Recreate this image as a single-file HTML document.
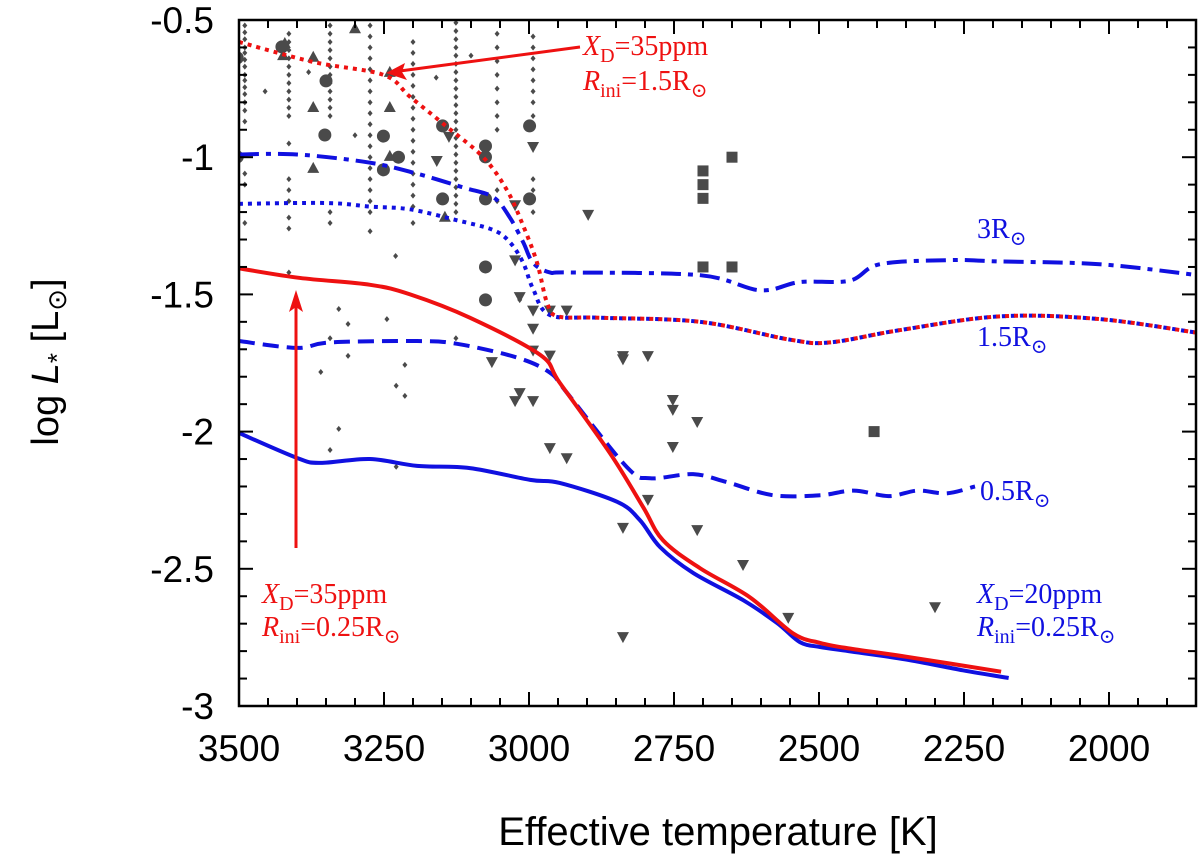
<!DOCTYPE html>
<html><head><meta charset="utf-8"><style>
html,body{margin:0;padding:0;background:#fff;}
svg{display:block;}
</style></head><body>
<svg id="chart" width="1200" height="862" viewBox="0 0 1200 862" xmlns="http://www.w3.org/2000/svg">
<defs><clipPath id="clip"><rect x="239" y="20" width="957" height="686"/></clipPath></defs>
<g id="scatter" clip-path="url(#clip)"></g>
<g id="curves" clip-path="url(#clip)"></g>
<g id="axes"></g>
<g id="annot"></g>
</svg>
<script>
const NS="http://www.w3.org/2000/svg";
// axis range
const xDomain=[3500,1850];
const yDomain=[-0.5,-3];
const xTicks=[3500,3250,3000,2750,2500,2250,2000];
const xTickLabels=["3500","3250","3000","2750","2500","2250","2000"];
const yTicks=[-0.5,-1,-1.5,-2,-2.5,-3];
const yTickLabels=["-0.5","-1","-1.5","-2","-2.5","-3"];
// tracks
const redDotT=[3500,3372,3251,3205,3141,3079,3038,3010,2986,2969,2950,2878,2705,2550,2481,2360,2188,2016,1847];
const redDotL=[-0.58,-0.653,-0.70,-0.78,-0.89,-1.0,-1.12,-1.25,-1.385,-1.53,-1.58,-1.585,-1.60,-1.665,-1.675,-1.63,-1.58,-1.59,-1.64];
const blueDotT=[3500,3348,3274,3205,3124,3062,3033,3010,2993,2964,2878,2705,2550,2481,2360,2188,2016,1847];
const blueDotL=[-1.17,-1.167,-1.18,-1.19,-1.23,-1.265,-1.31,-1.385,-1.48,-1.575,-1.585,-1.60,-1.665,-1.675,-1.63,-1.58,-1.59,-1.64];
const blueDDT=[3500,3400,3274,3193,3114,3062,3033,3010,2993,2964,2929,2705,2602,2533,2447,2395,2274,2188,2016,1847];
const blueDDL=[-0.99,-0.99,-1.02,-1.06,-1.11,-1.145,-1.22,-1.31,-1.385,-1.42,-1.42,-1.43,-1.485,-1.455,-1.45,-1.39,-1.375,-1.38,-1.39,-1.43];
const blueDashT=[3500,3400,3343,3193,3124,3021,2964,2934,2831,2791,2717,2659,2579,2498,2440,2380,2330,2280,2231];
const blueDashL=[-1.67,-1.695,-1.675,-1.67,-1.68,-1.73,-1.785,-1.86,-2.13,-2.17,-2.155,-2.184,-2.232,-2.232,-2.215,-2.235,-2.215,-2.225,-2.2];
const blueSolT=[3500,3400,3360,3274,3193,3102,2998,2947,2848,2809,2774,2717,2631,2572,2533,2498,2449,2351,2252,2173];
const blueSolL=[-2.005,-2.096,-2.114,-2.10,-2.125,-2.133,-2.176,-2.187,-2.256,-2.322,-2.421,-2.515,-2.614,-2.698,-2.767,-2.785,-2.80,-2.83,-2.87,-2.898];
const redSolT=[3500,3395,3274,3205,3102,2981,2947,2860,2803,2769,2705,2619,2545,2498,2449,2351,2186];
const redSolL=[-1.405,-1.44,-1.465,-1.50,-1.585,-1.72,-1.822,-2.08,-2.276,-2.396,-2.498,-2.604,-2.735,-2.77,-2.79,-2.82,-2.875];
// observed objects
const circT=[3503,3426,3350,3352,3251,3225,3251,3149,3149,3075,3075,3075,3075,3075,2999,2999,3503];
const circL=[-0.638,-0.598,-0.722,-0.919,-0.923,-1.0,-1.046,-0.886,-1.152,-0.959,-0.999,-1.152,-1.40,-1.52,-0.886,-1.152,-0.999];
const upT=[3421,3424,3372,3300,3372,3240,3240,3240,3372,3145];
const upL=[-0.584,-0.628,-0.634,-0.53,-0.817,-0.817,-0.689,-0.995,-1.039,-1.217];
const downT=[3138,3159,2993,3024,3024,3016,2993,2964,2935,2993,2993,2964,3064,3016,3024,2993,2964,2935,2898,2838,2838,2795,2752,2752,2710,2752,2795,2838,2710,2631,2553,2300,2838];
const downL=[-0.926,-1.014,-0.963,-1.175,-1.376,-1.51,-1.559,-1.559,-1.559,-1.625,-1.705,-1.723,-1.747,-1.860,-1.889,-1.889,-2.060,-2.097,-1.21,-1.725,-1.737,-1.725,-1.885,-1.921,-1.965,-2.056,-2.249,-2.351,-2.359,-2.486,-2.679,-2.64,-2.749];
const sqT=[2700,2700,2700,2650,2700,2650,2405];
const sqL=[-1.05,-1.10,-1.15,-1.0,-1.40,-1.40,-2.0];
const diaColT=[3490,3414,3343,3274,3200,3126,3055,2993];
const diaCols=[
 [-0.52,-0.545,-0.57,-0.60,-0.62,-0.645,-0.67,-0.70,-0.72,-0.745,-0.77,-0.80,-0.83,-0.87,-1.06,-1.10,-1.24],
 [-0.55,-0.58,-0.61,-0.64,-0.67,-0.70,-0.73,-0.76,-0.79,-0.82,-0.85,-0.95,-1.08,-1.12,-1.16,-1.22,-1.26,-1.42],
 [-0.52,-0.55,-0.58,-0.61,-0.64,-0.67,-0.70,-0.73,-0.76,-0.79,-0.82,-0.85,-1.20,-1.24],
 [-0.52,-0.56,-0.60,-0.64,-0.68,-0.72,-0.76,-0.80,-0.84,-0.88,-0.92,-0.96,-1.0,-1.04,-1.08,-1.12,-1.16,-1.20,-1.27],
 [-0.58,-0.62,-0.66,-0.70,-0.74,-0.78,-0.82,-0.86,-0.90,-0.94,-0.98,-1.02,-1.06,-1.10,-1.14,-1.18,-1.24],
 [-0.51,-0.54,-0.57,-0.60,-0.63,-0.66,-0.69,-0.72,-0.75,-0.78,-0.81,-0.84,-0.87,-0.90,-0.93,-0.96,-0.99,-1.02,-1.05,-1.08,-1.11,-1.14,-1.17,-1.20],
 [-0.55,-0.60,-0.65,-0.70,-0.75,-0.80,-0.85,-0.90,-1.12,-1.16],
 [-0.56,-0.60,-0.64,-0.68,-0.72,-0.76,-0.80,-0.85,-1.08,-1.12,-1.20]
];
const diaT=[3328,3312,3343,3312,3359,3214,3245,3229,3214,3328,3343,3229,3126,3016,3455,3380,3300,3160,3100,3230];
const diaL=[-1.553,-1.608,-1.66,-1.724,-1.783,-1.757,-1.59,-1.833,-1.87,-1.99,-2.067,-2.128,-1.66,-1.52,-0.76,-0.69,-0.92,-0.71,-0.63,-1.36];

const X0=239,X1=1196,Y0=20,Y1=706;
function sx(t){return X0+(xDomain[0]-t)/(xDomain[0]-xDomain[1])*(X1-X0);}
function sy(l){return Y0+(yDomain[0]-l)/(yDomain[0]-yDomain[1])*(Y1-Y0);}
function mk(tag,attrs,parent){const e=document.createElementNS(NS,tag);for(const k in attrs)e.setAttribute(k,attrs[k]);parent.appendChild(e);return e;}
const gS=document.getElementById('scatter'),gC=document.getElementById('curves'),gA=document.getElementById('axes'),gN=document.getElementById('annot');
const grey="#4a4a4a";
diaCols.forEach((col,i)=>col.forEach(l=>{
  const x=sx(diaColT[i]),y=sy(l);
  const d=mk('path',{d:`M${x},${y-3}L${x+2.5},${y}L${x},${y+3}L${x-2.5},${y}Z`,fill:grey},gS);
  
  
}));
diaT.forEach((t,i)=>{const x=sx(t),y=sy(diaL[i]);
  const d=mk('path',{d:`M${x},${y-3}L${x+2.5},${y}L${x},${y+3}L${x-2.5},${y}Z`,fill:grey},gS);
  
  });
circT.forEach((t,i)=>{const c=mk('circle',{cx:sx(t),cy:sy(circL[i]),r:6.5,fill:grey},gS);
  
  });
upT.forEach((t,i)=>{const x=sx(t),y=sy(upL[i]);
  const p=mk('path',{d:`M${x},${y-6}L${x+6},${y+5}L${x-6},${y+5}Z`,fill:grey},gS);
  
  });
downT.forEach((t,i)=>{const x=sx(t),y=sy(downL[i]);
  const p=mk('path',{d:`M${x-6},${y-5}L${x+6},${y-5}L${x},${y+6}Z`,fill:grey},gS);
  
  });
sqT.forEach((t,i)=>{const x=sx(t),y=sy(sqL[i]);
  const r=mk('rect',{x:x-5.5,y:y-5.5,width:11,height:11,fill:grey},gS);
  
  });
function smoothPath(T,L){
  const p=T.map((t,i)=>[sx(t),sy(L[i])]);
  let d=`M${p[0][0]},${p[0][1]}`;
  for(let i=0;i<p.length-1;i++){
    const p0=p[i-1]||p[i],p1=p[i],p2=p[i+1],p3=p[i+2]||p2;
    const c1=[p1[0]+(p2[0]-p0[0])/6,p1[1]+(p2[1]-p0[1])/6];
    const c2=[p2[0]-(p3[0]-p1[0])/6,p2[1]-(p3[1]-p1[1])/6];
    d+=`C${c1[0]},${c1[1]} ${c2[0]},${c2[1]} ${p2[0]},${p2[1]}`;
  }
  return d;
}
function curve(T,L,color,dash,name){
  const a={d:smoothPath(T,L),fill:'none',stroke:color,'stroke-width':4};
  if(dash)a['stroke-dasharray']=dash;
  const e=mk('path',a,gC);
  
  
}
curve(blueDotT,blueDotL,'#1010e0','4,5','track-1.5rsun-20ppm');
curve(blueDDT,blueDDL,'#1010e0','20,7,5,7','track-3rsun-20ppm');
curve(blueDashT,blueDashL,'#1010e0','16,8','track-0.5rsun-20ppm');
curve(blueSolT,blueSolL,'#1010e0',null,'track-0.25rsun-20ppm');
curve(redSolT,redSolL,'#ee1111',null,'track-0.25rsun-35ppm');
curve(redDotT,redDotL,'#ee1111','4,5','track-1.5rsun-35ppm');
// axes
const fr=mk('rect',{x:X0,y:Y0,width:X1-X0,height:Y1-Y0,fill:'none',stroke:'#000','stroke-width':2.5},gA);


for(let t=3500;t>=1850;t-=50){const x=sx(t);const big=(t%250===0);const len=big?14:8;
  mk('line',{x1:x,y1:Y1,x2:x,y2:Y1-len,stroke:'#000','stroke-width':2},gA);
  mk('line',{x1:x,y1:Y0,x2:x,y2:Y0+len,stroke:'#000','stroke-width':2},gA);}
for(let k=0;k<=25;k++){const l=-0.5-k*0.1;const y=sy(l);const big=(k%5===0);const len=big?14:8;
  mk('line',{x1:X0,y1:y,x2:X0+len,y2:y,stroke:'#000','stroke-width':2},gA);
  mk('line',{x1:X1,y1:y,x2:X1-len,y2:y,stroke:'#000','stroke-width':2},gA);}
xTicks.forEach((t,i)=>{const e=mk('text',{x:sx(t),y:Y1+55,'text-anchor':'middle','font-family':'Liberation Sans, sans-serif','font-size':37},gA);e.textContent=xTickLabels[i];
  
  });
yTicks.forEach((l,i)=>{const e=mk('text',{x:X0-25,y:sy(l)+13,'text-anchor':'end','font-family':'Liberation Sans, sans-serif','font-size':37},gA);e.textContent=yTickLabels[i];
  
  });
</script>
<div style="position:absolute;left:0;top:0;width:1200px;height:862px;pointer-events:none;">
<svg width="1200" height="862" xmlns="http://www.w3.org/2000/svg" style="position:absolute;left:0;top:0">
<text x="718" y="845" text-anchor="middle" font-family="Liberation Sans, sans-serif" font-size="40">Effective temperature [K]</text>
<text transform="translate(58,362) rotate(-90)" text-anchor="middle" font-family="Liberation Sans, DejaVu Sans, sans-serif" font-size="38">log <tspan font-style="italic">L</tspan><tspan font-size="26" dy="8">*</tspan><tspan dy="-8"> [L</tspan><tspan font-size="26" dy="8">⊙</tspan><tspan dy="-8">]</tspan></text>
<g>
<line x1="580" y1="47" x2="400" y2="71" stroke="#ee1111" stroke-width="3"/>
<path d="M386,73 L405,63 L402,72 L407,80 Z" fill="#ee1111"/>
</g>
<g>
<line x1="296" y1="548" x2="296" y2="305" stroke="#ee1111" stroke-width="3"/>
<path d="M296,290 L289,312 L296,307 L303,312 Z" fill="#ee1111"/>
</g>
<g font-family="Liberation Serif, DejaVu Serif, serif" font-size="28">
<text fill="#ee1111" x="583" y="55"><tspan font-style="italic">X</tspan><tspan font-size="20" dy="7">D</tspan><tspan dy="-7">=35ppm</tspan></text>
<text fill="#ee1111" x="583" y="90"><tspan font-style="italic">R</tspan><tspan font-size="20" dy="7">ini</tspan><tspan dy="-7">=1.5R</tspan><tspan font-size="20" dy="7">⊙</tspan></text>
<text fill="#ee1111" x="262" y="603"><tspan font-style="italic">X</tspan><tspan font-size="20" dy="7">D</tspan><tspan dy="-7">=35ppm</tspan></text>
<text fill="#ee1111" x="262" y="636"><tspan font-style="italic">R</tspan><tspan font-size="20" dy="7">ini</tspan><tspan dy="-7">=0.25R</tspan><tspan font-size="20" dy="7">⊙</tspan></text>
<text fill="#1010e0" x="977" y="238">3R<tspan font-size="20" dy="7">⊙</tspan></text>
<text fill="#1010e0" x="977" y="346">1.5R<tspan font-size="20" dy="7">⊙</tspan></text>
<text fill="#1010e0" x="980" y="500">0.5R<tspan font-size="20" dy="7">⊙</tspan></text>
<text fill="#1010e0" x="977" y="603"><tspan font-style="italic">X</tspan><tspan font-size="20" dy="7">D</tspan><tspan dy="-7">=20ppm</tspan></text>
<text fill="#1010e0" x="977" y="636"><tspan font-style="italic">R</tspan><tspan font-size="20" dy="7">ini</tspan><tspan dy="-7">=0.25R</tspan><tspan font-size="20" dy="7">⊙</tspan></text>
</g>
</svg>
</div>
</body></html>
